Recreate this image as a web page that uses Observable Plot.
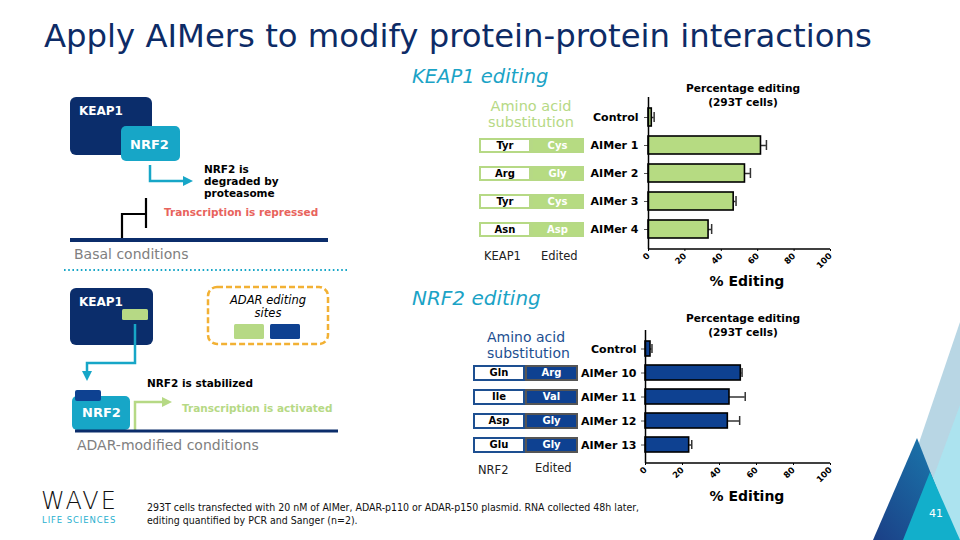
<!DOCTYPE html>
<html>
<head>
<meta charset="utf-8">
<script src="https://cdn.jsdelivr.net/npm/d3@7"></script>
<script src="https://cdn.jsdelivr.net/npm/@observablehq/plot@0.6"></script>
<style>
  html, body { margin: 0; padding: 0; background: #fff; }
  #slide { position: relative; width: 960px; height: 540px; overflow: hidden; background: #fff; font-family: "DejaVu Sans", Verdana, sans-serif; }
  .abs { position: absolute; white-space: nowrap; }
  .aa { position: absolute; box-sizing: border-box; font-weight: bold; font-size: 10px; text-align: center; font-family: "DejaVu Sans", sans-serif; }
</style>
</head>
<body>
<div id="slide"></div>
<script>
// ---------------- data ----------------
const keapCats = ["Control", "AIMer 1", "AIMer 2", "AIMer 3", "AIMer 4"];
const keapValues = [1.8, 61.8, 53.0, 46.8, 33.0];
const keapErrors = [1.3, 3.0, 3.0, 1.3, 1.7];
const keapOriginal = [null, "Tyr", "Arg", "Tyr", "Asn"];
const keapEdited = [null, "Cys", "Gly", "Cys", "Asp"];

const nrfCats = ["Control", "AIMer 10", "AIMer 11", "AIMer 12", "AIMer 13"];
const nrfValues = [2.7, 51.5, 45.4, 44.5, 23.6];
const nrfErrors = [0.8, 0.7, 8.5, 6.4, 1.4];
const nrfOriginal = [null, "Gln", "Ile", "Asp", "Glu"];
const nrfEdited = [null, "Arg", "Val", "Gly", "Gly"];

const xTicks = [0, 20, 40, 60, 80, 100];

// ---------------- helpers ----------------
const slide = document.getElementById("slide");
function addText(txt, x, y, style) {
  const d = document.createElement("div");
  d.className = "abs";
  d.textContent = txt;
  d.style.left = x + "px";
  d.style.top = y + "px";
  Object.assign(d.style, style || {});
  slide.appendChild(d);
  return d;
}

function makeChart(cfg) {
  const rows = cfg.cats.map((c, i) => ({name: c, v: cfg.values[i], e: cfg.errors[i]}));
  const chart = Plot.plot({
    width: cfg.width, height: cfg.height,
    marginLeft: cfg.ml, marginRight: cfg.mr, marginTop: cfg.mt, marginBottom: cfg.mb,
    style: {fontFamily: "DejaVu Sans, sans-serif", background: "transparent", overflow: "visible"},
    x: {domain: [0, 100], ticks: xTicks},
    y: {domain: cfg.cats, paddingInner: cfg.pi, paddingOuter: cfg.po},
    marks: [
      Plot.axisX({ticks: xTicks, tickRotate: -45, tickSize: 2, tickPadding: 3, fontSize: 8.5, fontWeight: "bold", label: null, stroke: "#000"}),
      Plot.axisY({tickSize: 4, tickPadding: cfg.tp, fontSize: 11, fontWeight: "bold", label: null, stroke: "#555", color: "#000"}),
      Plot.ruleY(rows, {y: "name", x1: "v", x2: d => d.v + d.e, stroke: "#333", strokeWidth: 1.5}),
      Plot.tickX(rows, {y: "name", x: d => d.v + d.e, stroke: "#333", strokeWidth: 1.5, insetTop: cfg.capInset, insetBottom: cfg.capInset}),
      Plot.barX(rows, {y: "name", x: "v", fill: cfg.fill, stroke: "#000", strokeWidth: 1.6}),
      Plot.ruleX([0], {stroke: "#000", strokeWidth: 1.5})
    ]
  });
  // bottom axis line drawn from the x scale
  const xs = chart.scale("x");
  const line = document.createElementNS("http://www.w3.org/2000/svg", "line");
  const yb = cfg.height - cfg.mb;
  line.setAttribute("x1", xs.apply(0)); line.setAttribute("x2", xs.apply(100));
  line.setAttribute("y1", yb); line.setAttribute("y2", yb);
  line.setAttribute("stroke", "#000"); line.setAttribute("stroke-width", 1.5);
  chart.appendChild(line);
  chart.style.position = "absolute";
  chart.style.left = cfg.left + "px";
  chart.style.top = cfg.top + "px";
  slide.appendChild(chart);

  // amino acid boxes aligned with the y scale
  const ys = chart.scale("y");
  cfg.cats.forEach((c, i) => {
    if (!cfg.orig[i]) return;
    const cy = cfg.top + ys.apply(c) + ys.bandwidth / 2;
    const h = cfg.boxH;
    const a = document.createElement("div");
    a.className = "aa";
    Object.assign(a.style, {left: cfg.boxX + "px", top: (cy - h / 2) + "px", width: cfg.boxW + "px", height: h + "px",
      lineHeight: (h - 4) + "px", background: "#fff", border: "2px solid " + cfg.boxBorder, color: "#000"});
    a.textContent = cfg.orig[i];
    slide.appendChild(a);
    const b = document.createElement("div");
    b.className = "aa";
    Object.assign(b.style, {left: (cfg.boxX + cfg.boxW) + "px", top: (cy - h / 2) + "px", width: (cfg.boxW + 1) + "px", height: h + "px",
      lineHeight: (h - 4) + "px", background: cfg.fill, border: "2px solid " + cfg.editBorder, color: "#fff"});
    b.textContent = cfg.edit[i];
    slide.appendChild(b);
  });
  return chart;
}

// ---------------- decorative SVG (diagram, triangles) ----------------
const NAVY = "#0b2d6b", TEAL = "#17a6c7", GREEN = "#b6d985";
slide.insertAdjacentHTML("beforeend", `
<svg width="960" height="540" style="position:absolute;left:0;top:0">
  <defs>
    <marker id="ah" viewBox="0 0 10 10" refX="5" refY="5" markerWidth="4" markerHeight="4" orient="auto">
      <path d="M0,0 L10,5 L0,10 z" fill="${TEAL}"/></marker>
    <marker id="ahg" viewBox="0 0 10 10" refX="5" refY="5" markerWidth="4" markerHeight="4" orient="auto">
      <path d="M0,0 L10,5 L0,10 z" fill="${GREEN}"/></marker>
    <linearGradient id="dg" x1="0" y1="1" x2="1" y2="0">
      <stop offset="0" stop-color="#1b3f86"/><stop offset="1" stop-color="#1a80b2"/></linearGradient>
  </defs>
  <!-- triangles -->
  <polygon points="960,322 886,540 960,540" fill="#b8d6e4"/>
  <polygon points="960,405 925,500 960,540" fill="#ace3ef"/>
  <polygon points="917,438 873,540 957,540" fill="url(#dg)"/>
  <polygon points="930,472 903,540 960,540" fill="#12afcb"/>
  <!-- basal -->
  <rect x="70" y="97" width="82" height="58" rx="6" fill="${NAVY}"/>
  <rect x="121" y="126" width="59" height="35" rx="5" fill="${TEAL}"/>
  <path d="M150,165 V181 H188" fill="none" stroke="${TEAL}" stroke-width="2.5" marker-end="url(#ah)"/>
  <path d="M122,238 V214 H146 M146,198 V228" fill="none" stroke="#000" stroke-width="2.2"/>
  <line x1="70" y1="240" x2="328" y2="240" stroke="${NAVY}" stroke-width="4"/>
  <line x1="64" y1="270" x2="348" y2="270" stroke="${TEAL}" stroke-width="2.2" stroke-dasharray="1.6,2.6"/>
  <!-- ADAR-modified -->
  <rect x="70" y="288" width="83" height="57" rx="6" fill="${NAVY}"/>
  <rect x="122" y="309" width="26" height="11" rx="1.5" fill="${GREEN}"/>
  <path d="M135,324 V363 H87 V376" fill="none" stroke="${TEAL}" stroke-width="2.5" marker-end="url(#ah)"/>
  <rect x="72" y="396" width="58" height="34" rx="5" fill="${TEAL}"/>
  <rect x="75" y="390" width="26" height="11" rx="2" fill="#0e4191"/>
  <path d="M135,430 V402 H167" fill="none" stroke="${GREEN}" stroke-width="2.5" marker-end="url(#ahg)"/>
  <line x1="75" y1="431" x2="338" y2="431" stroke="${NAVY}" stroke-width="3"/>
  <rect x="208" y="287" width="120" height="57" rx="9" fill="none" stroke="#f2b134" stroke-width="2.5" stroke-dasharray="6,3"/>
  <rect x="234" y="324" width="30" height="15" rx="1.5" fill="${GREEN}"/>
  <rect x="270" y="324" width="30" height="15" rx="1.5" fill="#0e4191"/>
</svg>`);

// ---------------- texts ----------------
addText("Apply AIMers to modify protein-protein interactions", 44, 17, {fontSize: "32.3px", color: "#0d2b66"});
addText("KEAP1 editing", 412, 65, {fontSize: "19.5px", fontStyle: "italic", color: "#1ba3c6"});
addText("NRF2 editing", 412, 286, {fontSize: "20px", fontStyle: "italic", color: "#1ba3c6"});

addText("KEAP1", 79, 104, {fontSize: "12px", fontWeight: "bold", color: "#fff"});
addText("NRF2", 130, 137, {fontSize: "13px", fontWeight: "bold", color: "#fff"});
addText("NRF2 is\ndegraded by\nproteasome", 204, 163, {fontSize: "10.5px", fontWeight: "bold", color: "#000", whiteSpace: "pre", lineHeight: "12px"});
addText("Transcription is repressed", 164, 206, {fontSize: "10.5px", fontWeight: "bold", color: "#e8635c"});
addText("Basal conditions", 74, 246, {fontSize: "14px", color: "#808080"});

addText("KEAP1", 79, 295, {fontSize: "12px", fontWeight: "bold", color: "#fff"});
addText("ADAR editing\nsites", 218, 294, {fontSize: "11.5px", fontStyle: "italic", color: "#000", whiteSpace: "pre", lineHeight: "13px", textAlign: "center", width: "100px"});
addText("NRF2 is stabilized", 147, 377, {fontSize: "10.5px", fontWeight: "bold", color: "#000"});
addText("Transcription is activated", 182, 402, {fontSize: "10.5px", fontWeight: "bold", color: "#b6d985"});
addText("NRF2", 82, 405, {fontSize: "13px", fontWeight: "bold", color: "#fff"});
addText("ADAR-modified conditions", 77, 437, {fontSize: "14px", color: "#808080"});

// chart side texts
addText("Percentage editing\n(293T cells)", 683, 81, {fontSize: "10.6px", fontWeight: "bold", color: "#000", whiteSpace: "pre", lineHeight: "14px", textAlign: "center", width: "120px"});
addText("Amino acid\nsubstitution", 481, 98, {fontSize: "14.5px", color: "#b6d985", whiteSpace: "pre", lineHeight: "16px", textAlign: "center", width: "100px"});
addText("KEAP1", 484, 249, {fontSize: "11.5px", color: "#222"});
addText("Edited", 541, 249, {fontSize: "11.5px", color: "#222"});
addText("% Editing", 697, 273, {fontSize: "14px", fontWeight: "bold", color: "#000", width: "100px", textAlign: "center"});

addText("Percentage editing\n(293T cells)", 683, 311, {fontSize: "10.6px", fontWeight: "bold", color: "#000", whiteSpace: "pre", lineHeight: "14px", textAlign: "center", width: "120px"});
addText("Amino acid\nsubstitution", 487, 329, {fontSize: "14px", color: "#1d4f91", whiteSpace: "pre", lineHeight: "16px"});
addText("NRF2", 478, 463, {fontSize: "11.5px", color: "#222"});
addText("Edited", 535, 461, {fontSize: "11.5px", color: "#222"});
addText("% Editing", 697, 488, {fontSize: "14px", fontWeight: "bold", color: "#000", width: "100px", textAlign: "center"});

// footer
addText("WAVE", 41, 487, {fontSize: "24px", color: "#111", letterSpacing: "2px", fontWeight: "300", fontFamily: "'DejaVu Sans ExtraLight', 'DejaVu Sans', sans-serif"});
addText("LIFE SCIENCES", 42, 515, {fontSize: "8.5px", color: "#2ab0cf", letterSpacing: "0.9px"});
addText("293T cells transfected with 20 nM of AIMer, ADAR-p110 or ADAR-p150 plasmid. RNA collected 48h later,\nediting quantified by PCR and Sanger (n=2).", 147, 501, {fontSize: "10.5px", color: "#111", whiteSpace: "pre", lineHeight: "13px", fontFamily: "'Liberation Sans Narrow', 'DejaVu Sans Condensed', sans-serif"});
addText("41", 929, 507, {fontSize: "11px", color: "#fff"});

// ---------------- charts ----------------
makeChart({cats: keapCats, values: keapValues, errors: keapErrors, orig: keapOriginal, edit: keapEdited,
  left: 470, top: 70, width: 370, height: 220, ml: 178, mr: 10, mt: 27, mb: 41, pi: 0.374, po: 0.347, tp: 6,
  capInset: 4, fill: "#b6db82", boxX: 479, boxW: 52, boxH: 15, boxBorder: "#b6d985", editBorder: "#b6d985"});
makeChart({cats: nrfCats, values: nrfValues, errors: nrfErrors, orig: nrfOriginal, edit: nrfEdited,
  left: 470, top: 290, width: 370, height: 213, ml: 175, mr: 10, mt: 40, mb: 40, pi: 0.393, po: 0.389, tp: 5,
  capInset: 3, fill: "#0e4191", boxX: 473, boxW: 52, boxH: 16, boxBorder: "#1d4f91", editBorder: "#555"});
</script>
</body>
</html>
